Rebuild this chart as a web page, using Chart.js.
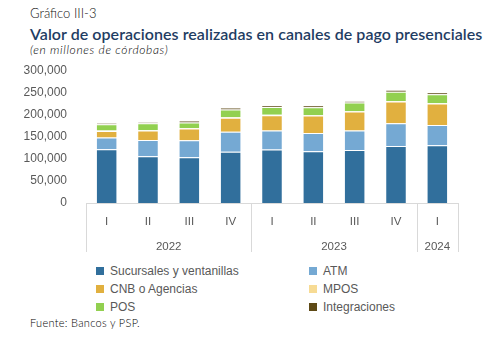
<!DOCTYPE html>
<html>
<head>
<meta charset="utf-8">
<script src="https://cdn.jsdelivr.net/npm/chart.js@4"></script>
<style>
  body { margin: 0; background: #fff; }
  #wrap { position: relative; width: 491px; height: 344px; overflow: hidden; }
  .txt { position: absolute; white-space: nowrap; }
  #kicker { left: 30px; top: 5px; font: 300 13px Lato, sans-serif; color: #111; }
  #title { left: 30px; top: 24px; font: 600 16px Lato, sans-serif; color: #1f3d63; letter-spacing: 0.05px; }
  #sub { left: 30px; top: 42px; font: italic 300 12px Lato, sans-serif; color: #000; letter-spacing: 0.65px; }
  #source { left: 30px; top: 316px; font: 300 11px Lato, sans-serif; color: #000; letter-spacing: 0.3px; }
  #chartBox { position: absolute; left: 0; top: 52px; width: 491px; height: 200px; }
  #legend { position: absolute; left: 0; top: 264px; width: 491px; }
  .item { position: absolute; font: 12px "Liberation Sans", sans-serif; color: #595959; }
  .item span { display: inline-block; width: 8px; height: 8px; margin-right: 6px; }
</style>
</head>
<body>
<div id="wrap">
  <div class="txt" id="kicker">Gráfico III-3</div>
  <div class="txt" id="title">Valor de operaciones realizadas en canales de pago presenciales</div>
  <div class="txt" id="sub">(en millones de córdobas)</div>
  <div id="chartBox"><canvas id="myChart" width="491" height="200"></canvas></div>
  <div id="legend"></div>
  <div class="txt" id="source">Fuente: Bancos y PSP.</div>
</div>
<script>
'use strict';

const quarters = [ 'I', 'II', 'III', 'IV', 'I', 'II', 'III', 'IV', 'I' ];
const years = [ '2022', '2022', '2022', '2022', '2023', '2023', '2023', '2023', '2024' ];
const yTicks = [ 0, 50000, 100000, 150000, 200000, 250000, 300000 ];

const seriesNames = [ 'Sucursales y ventanillas', 'ATM', 'CNB o Agencias', 'MPOS', 'POS', 'Integraciones' ];
const seriesColors = [ '#316f9c', '#75a9d3', '#e1b03f', '#f7db94', '#92d050', '#5e4a16' ];

const sucursales = [ 121500, 105500, 103500, 115500, 121000, 117000, 119500, 128500, 130500 ];
const atm = [ 26500, 37000, 38000, 45500, 42500, 41000, 44000, 51500, 45500 ];
const cnb = [ 14500, 21000, 27000, 31800, 35000, 39500, 43000, 49500, 48500 ];
const mpos = [ 1000, 1000, 1000, 1000, 1000, 1000, 1000, 1000, 1000 ];
const pos = [ 14200, 15600, 12600, 17200, 17200, 17900, 19500, 20800, 20100 ];
const integraciones = [ 3000, 2300, 3500, 4500, 3800, 4500, 3000, 4500, 4500 ];

const seriesData = [ sucursales, atm, cnb, mpos, pos, integraciones ];

// legend in two columns, same order as the datasets
const legend = document.getElementById( 'legend' );
for ( let i = 0; i < seriesNames.length; i++ ) {
  let div = document.createElement( 'div' );
  div.className = 'item';
  div.style.left = ( i % 2 === 0 ? 96 : 309 ) + 'px';
  div.style.top = ( Math.floor( i / 2 ) * 18 ) + 'px';
  div.innerHTML = `<span style="background:${seriesColors[i]}"></span>${seriesNames[i]}`;
  legend.appendChild( div );
}

// two-level category axis: quarters, then years with separators
const groupAxis = {
  id: 'groupAxis',
  afterDraw( chart ) {
    const ctx = chart.ctx;
    const x = chart.scales.x;
    const area = chart.chartArea;
    const step = x.getPixelForValue( 1 ) - x.getPixelForValue( 0 );
    const base = Math.round( area.bottom );
    ctx.save();
    ctx.strokeStyle = '#d9d9d9';
    ctx.lineWidth = 1;
    ctx.beginPath();
    ctx.moveTo( area.left, base + 0.5 );
    ctx.lineTo( area.right, base + 0.5 );
    ctx.stroke();

    ctx.fillStyle = '#595959';
    ctx.font = '11.5px "Liberation Sans", sans-serif';
    ctx.textAlign = 'center';
    ctx.textBaseline = 'middle';
    for ( let i = 0; i < quarters.length; i++ ) {
      ctx.fillText( quarters[i], x.getPixelForValue( i ), base + 19 );
    }

    let start = 0;
    for ( let i = 1; i <= years.length; i++ ) {
      if ( i === years.length || years[i] !== years[start] ) {
        let left = x.getPixelForValue( start ) - step / 2;
        let right = x.getPixelForValue( i - 1 ) + step / 2;
        ctx.fillText( years[start], ( left + right ) / 2, base + 44 );
        ctx.beginPath();
        ctx.moveTo( Math.round( left ) + 0.5, base );
        ctx.lineTo( Math.round( left ) + 0.5, base + 53 );
        ctx.moveTo( Math.round( right ) + 0.5, base );
        ctx.lineTo( Math.round( right ) + 0.5, base + 53 );
        ctx.stroke();
        start = i;
      }
    }
    ctx.restore();
  }
};

let datasets = [];
for ( let i = 0; i < seriesNames.length; i++ ) {
  datasets.push( {
    label: seriesNames[i],
    data: seriesData[i],
    backgroundColor: seriesColors[i],
    borderColor: 'rgba(255,255,255,0.25)',
    borderWidth: 1,
    barPercentage: 0.52,
    categoryPercentage: 1
  } );
}

let ctx = document.getElementById( 'myChart' ).getContext( '2d' );
let myChart = new Chart( ctx, {
  type: 'bar',
  data: {
    labels: quarters.map( ( q, i ) => q + ' ' + years[i] ),
    datasets: datasets
  },
  options: {
    responsive: false,
    animation: false,
    layout: {
      padding: { left: 0, right: 33, top: 1, bottom: 49 }
    },
    plugins: {
      legend: { display: false },
      tooltip: { enabled: false }
    },
    scales: {
      x: {
        stacked: true,
        display: false
      },
      y: {
        stacked: true,
        min: 0,
        max: 300000,
        afterFit( scale ) { scale.width = 86; },
        afterBuildTicks( scale ) { scale.ticks = yTicks.map( v => ( { value: v } ) ); },
        grid: { display: false },
        border: { display: false },
        ticks: {
          padding: 11,
          color: '#595959',
          font: { family: '"Liberation Sans", sans-serif', size: 12 },
          callback: v => v.toLocaleString( 'en-US' )
        }
      }
    }
  },
  plugins: [ groupAxis ]
} );
</script>
</body>
</html>
